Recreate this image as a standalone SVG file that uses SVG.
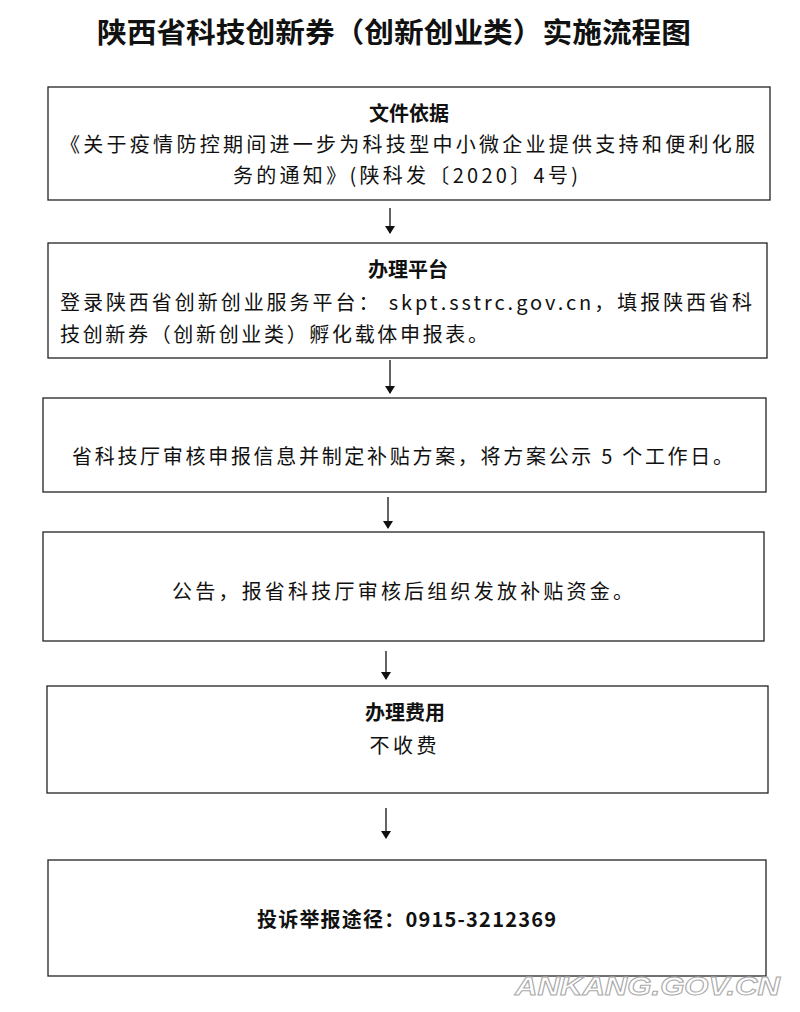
<svg xmlns="http://www.w3.org/2000/svg" width="800" height="1012" viewBox="0 0 800 1012">
<style>
.box{fill:#fff;stroke:#222;stroke-width:1.3}
.t{font-family:"Noto Sans CJK SC","Liberation Serif",sans-serif;font-size:20px;fill:#111}
.h{font-family:"Noto Sans CJK SC",sans-serif;font-size:20px;font-weight:bold;fill:#111}
.c{text-anchor:middle}
.ln{stroke:#111;stroke-width:1.3;fill:none}
</style>
<defs>
<marker id="ah" markerWidth="8" markerHeight="10" refX="7" refY="5" orient="auto" markerUnits="userSpaceOnUse"><path d="M0,0 L8,5 L0,10 z" fill="#111"/></marker>
</defs>
<rect width="800" height="1012" fill="#fff"/>
<text x="394" y="43" class="c" font-family="Noto Sans CJK SC,sans-serif" font-size="28" font-weight="bold" fill="#111" textLength="594" lengthAdjust="spacingAndGlyphs">陕西省科技创新券（创新创业类）实施流程图</text>
<g id="connectors">
<line class="ln" x1="390" y1="208" x2="390" y2="233" marker-end="url(#ah)"/>
<line class="ln" x1="390" y1="360" x2="390" y2="393" marker-end="url(#ah)"/>
<line class="ln" x1="388" y1="497" x2="388" y2="528" marker-end="url(#ah)"/>
<line class="ln" x1="386" y1="651" x2="386" y2="679" marker-end="url(#ah)"/>
<line class="ln" x1="386" y1="808" x2="386" y2="838" marker-end="url(#ah)"/>
</g>
<g id="n1">
<rect class="box" x="48" y="87" width="722" height="113"/>
<text class="h c" x="409" y="121">文件依据</text>
<text class="t" x="60" y="152" textLength="695" lengthAdjust="spacing">《关于疫情防控期间进一步为科技型中小微企业提供支持和便利化服</text>
<text class="t" x="233" y="183" textLength="345" lengthAdjust="spacing">务的通知》(陕科发〔2020〕4号)</text>
</g>
<g id="n2">
<rect class="box" x="48" y="243" width="719" height="115"/>
<text class="h c" x="408" y="277">办理平台</text>
<text class="t" x="60" y="310" textLength="692" lengthAdjust="spacing">登录陕西省创新创业服务平台： skpt.sstrc.gov.cn，填报陕西省科</text>
<text class="t" x="60" y="342" textLength="428" lengthAdjust="spacing">技创新券（创新创业类）孵化载体申报表。</text>
</g>
<g id="n3">
<rect class="box" x="43" y="398" width="723" height="94"/>
<text class="t" x="72" y="464" textLength="661" lengthAdjust="spacing">省科技厅审核申报信息并制定补贴方案，将方案公示 5 个工作日。</text>
</g>
<g id="n4">
<rect class="box" x="43" y="532" width="721" height="109"/>
<text class="t" x="172" y="599" textLength="461" lengthAdjust="spacing">公告，报省科技厅审核后组织发放补贴资金。</text>
</g>
<g id="n5">
<rect class="box" x="47" y="686" width="721" height="107"/>
<text class="h c" x="405" y="720">办理费用</text>
<text class="t c" x="403" y="753" textLength="67" lengthAdjust="spacing">不收费</text>
</g>
<g id="n6">
<rect class="box" x="48" y="860" width="718" height="116"/>
<text class="h" x="257" y="927" textLength="299" lengthAdjust="spacing">投诉举报途径：0915-3212369</text>
</g>
<text x="515" y="995" font-family="Liberation Sans,sans-serif" font-size="26" font-weight="bold" font-style="italic" fill="#fff" stroke="#aaa" stroke-width="1" textLength="265" lengthAdjust="spacingAndGlyphs">ANKANG.GOV.CN</text>
</svg>
